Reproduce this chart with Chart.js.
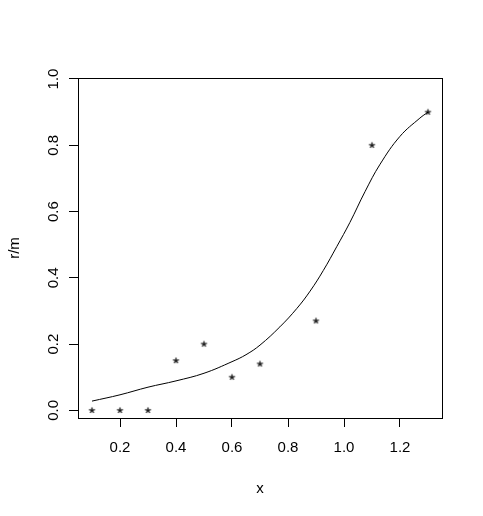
<!DOCTYPE html>
<html>
<head>
<meta charset="utf-8">
<script src="https://cdn.jsdelivr.net/npm/chart.js@4/dist/chart.umd.min.js"></script>
<style>
  html, body { margin: 0; padding: 0; background: #fff; }
  #wrap { width: 483px; height: 516px; }
</style>
</head>
<body>
<div id="wrap"><canvas id="plot" width="483" height="516"></canvas></div>
<script>
// observed points (r/m against x)
const pointX = [0.1, 0.2, 0.3, 0.4, 0.5, 0.6, 0.7, 0.9, 1.1, 1.3];
const pointY = [0, 0, 0, 0.15, 0.2, 0.1, 0.14, 0.27, 0.8, 0.9];

// fitted curve
const curveX = [0.1, 0.2, 0.3, 0.4, 0.5, 0.6, 0.65, 0.7, 0.771, 0.831, 0.879, 0.926, 0.974, 1.021, 1.075, 1.129, 1.2, 1.271, 1.3];
const curveY = [0.028, 0.047, 0.07, 0.089, 0.112, 0.147, 0.168, 0.197, 0.252, 0.307, 0.36, 0.422, 0.494, 0.567, 0.66, 0.743, 0.827, 0.882, 0.9];

const xTicks = [0.2, 0.4, 0.6, 0.8, 1.0, 1.2];
const yTicks = [0.0, 0.2, 0.4, 0.6, 0.8, 1.0];

const FONT = 'Liberation Sans, Arial, sans-serif';

// small asterisk like R's pch = "*"
function makeStar() {
  const c = document.createElement('canvas');
  c.width = 9; c.height = 9;
  const g = c.getContext('2d');
  g.strokeStyle = '#000';
  g.lineWidth = 1.2;
  const cx = 4.5, cy = 4.5, r = 3;
  for (let i = 0; i < 5; i++) {
    const a = -Math.PI / 2 + i * 2 * Math.PI / 5;
    g.beginPath();
    g.moveTo(cx, cy);
    g.lineTo(cx + r * Math.cos(a), cy + r * Math.sin(a));
    g.stroke();
  }
  return c;
}

// box round the plot + rotated y tick labels
const boxPlugin = {
  id: 'box',
  afterDraw(chart) {
    const { ctx, chartArea: a, scales } = chart;
    ctx.save();
    ctx.strokeStyle = '#000';
    ctx.lineWidth = 1;
    ctx.strokeRect(a.left + 0.5, a.top + 0.5, a.right - a.left, a.bottom - a.top);
    ctx.fillStyle = '#000';
    ctx.font = '15px ' + FONT;
    ctx.textAlign = 'center';
    ctx.textBaseline = 'alphabetic';
    yTicks.forEach(v => {
      const py = scales.y.getPixelForValue(v);
      ctx.save();
      ctx.translate(58, py);
      ctx.rotate(-Math.PI / 2);
      ctx.fillText(v.toFixed(1), 0, 0);
      ctx.restore();
    });
    ctx.restore();
  }
};

new Chart(document.getElementById('plot'), {
  type: 'scatter',
  data: {
    datasets: [
      {
        type: 'line',
        data: curveX.map((x, i) => ({ x: x, y: curveY[i] })),
        borderColor: '#000',
        borderWidth: 1,
        pointRadius: 0,
        fill: false,
        tension: 0.4
      },
      {
        data: pointX.map((x, i) => ({ x: x, y: pointY[i] })),
        pointStyle: makeStar(),
        pointRadius: 4,
        showLine: false
      }
    ]
  },
  options: {
    responsive: false,
    animation: false,
    layout: { padding: { top: 78, right: 41, left: 0, bottom: 0 } },
    plugins: { legend: { display: false }, tooltip: { enabled: false } },
    scales: {
      x: {
        type: 'linear',
        min: 0.05,
        max: 1.35,
        afterBuildTicks: s => { s.ticks = xTicks.map(v => ({ value: v })); },
        afterFit: s => { s.height = 98; },
        grid: { drawOnChartArea: false, tickLength: 9, color: '#000' },
        border: { color: '#000' },
        ticks: {
          color: '#000',
          font: { family: FONT, size: 15 },
          padding: 12,
          maxRotation: 0,
          callback: v => v.toFixed(1)
        },
        title: {
          display: true, text: 'x', color: '#000',
          font: { family: FONT, size: 15 },
          padding: { top: 0, bottom: 18 }
        }
      },
      y: {
        type: 'linear',
        min: -0.023,
        max: 1.003,
        afterBuildTicks: s => { s.ticks = yTicks.map(v => ({ value: v })); },
        afterFit: s => { s.width = 78; },
        grid: { drawOnChartArea: false, tickLength: 9, color: '#000' },
        border: { color: '#000' },
        ticks: { display: false },
        title: {
          display: true, text: 'r/m', color: '#000',
          font: { family: FONT, size: 15 },
          padding: { top: 6, bottom: 0 }
        }
      }
    }
  },
  plugins: [boxPlugin]
});
</script>
</body>
</html>
